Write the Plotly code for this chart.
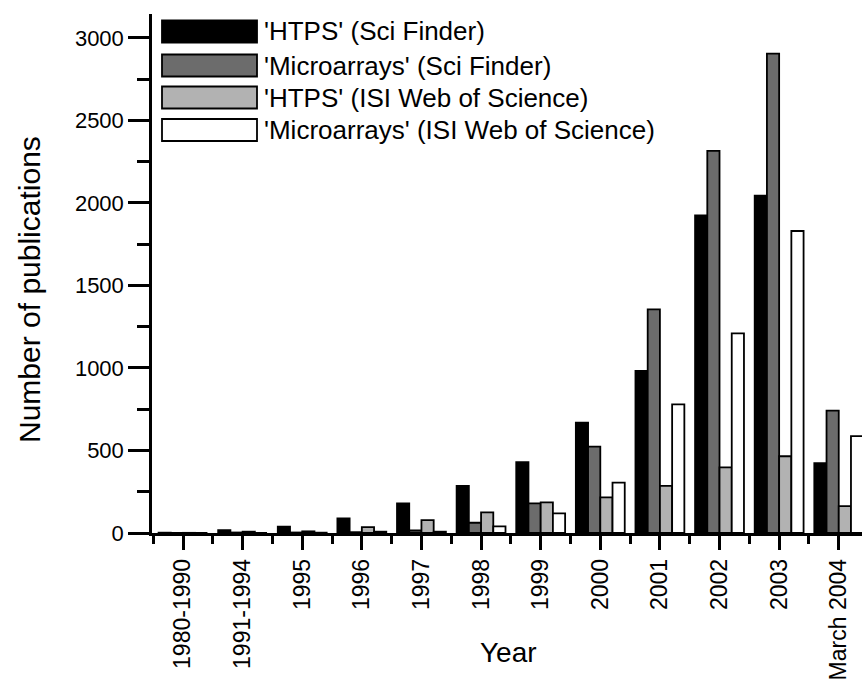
import plotly.graph_objects as go

categories = ["1980-1990", "1991-1994", "1995", "1996", "1997", "1998", "1999",
              "2000", "2001", "2002", "2003", "March 2004"]

htps_scifinder = [2, 18, 38, 88, 180, 285, 430, 668, 982, 1925, 2045, 424]
micro_scifinder = [0, 3, 3, 5, 15, 62, 180, 523, 1355, 2315, 2905, 742]
htps_isi = [1, 8, 10, 35, 78, 125, 186, 216, 285, 398, 465, 163]
micro_isi = [0, 0, 2, 8, 8, 40, 119, 305, 780, 1210, 1830, 587]

series_names = ["'HTPS' (Sci Finder)", "'Microarrays' (Sci Finder)",
                "'HTPS' (ISI Web of Science)", "'Microarrays' (ISI Web of Science)"]
series_values = [htps_scifinder, micro_scifinder, htps_isi, micro_isi]
series_colors = ["#000000", "#6c6c6c", "#b2b2b2", "#ffffff"]

y_ticks = [0, 500, 1000, 1500, 2000, 2500, 3000]

W, H = 863, 679
L, T = 152, 14
R = W - 862
B = H - 533
PW, PH = W - L - R, H - T - B
FONT = "Liberation Sans, Arial, Helvetica, sans-serif"

def px_x(p):
    return (p - L) / PW

def px_y(p):
    return (H - B - p) / PH

xs = list(range(len(categories)))
fig = go.Figure()
for name, vals, col in zip(series_names, series_values, series_colors):
    fig.add_trace(go.Bar(x=xs, y=vals, name=name,
                         marker=dict(color=col, line=dict(color="black", width=1.8)),
                         showlegend=False))

# custom legend with wide swatches
shapes = []
annotations = []
row_centers = [31.5, 65.5, 97.5, 130]
for (name, col, cy) in zip(series_names, series_colors, row_centers):
    shapes.append(dict(type="rect", xref="paper", yref="paper",
                       x0=px_x(162), x1=px_x(257), y0=px_y(cy + 11), y1=px_y(cy - 11),
                       fillcolor=col, line=dict(color="black", width=1.8)))
    annotations.append(dict(xref="paper", yref="paper", x=px_x(262), y=px_y(cy),
                            xanchor="left", yanchor="middle", showarrow=False,
                            text=name, font=dict(family=FONT, size=26, color="black")))

annotations.append(dict(xref="paper", yref="paper", x=px_x(508), y=px_y(652),
                        xanchor="center", yanchor="middle", showarrow=False,
                        text="Year", font=dict(family=FONT, size=28, color="black")))
annotations.append(dict(xref="paper", yref="paper", x=px_x(29), y=px_y(290),
                        xanchor="center", yanchor="middle", showarrow=False, textangle=-90,
                        text="Number of publications", font=dict(family=FONT, size=30, color="black")))

fig.update_layout(
    width=W, height=H,
    margin=dict(l=L, r=R, t=T, b=B, pad=0, autoexpand=False),
    paper_bgcolor="white", plot_bgcolor="white",
    barmode="group", bargap=0.18, bargroupgap=0,
    font=dict(family=FONT, color="black"),
    shapes=shapes, annotations=annotations,
    showlegend=False,
)
fig.update_xaxes(
    automargin=False,
    range=[-0.52, 11.39], tickmode="array", tickvals=xs, ticktext=categories,
    tickangle=-90, tickfont=dict(family=FONT, size=23, color="black"),
    showline=True, linecolor="black", linewidth=2.5,
    ticks="outside", ticklen=14, tickwidth=2.5, tickcolor="black",
    minor=dict(tickmode="array", tickvals=[i - 0.5 for i in range(len(categories) + 1)],
               ticks="outside", ticklen=8, tickwidth=2.5, tickcolor="black"),
    showgrid=False, zeroline=False,
)
fig.update_yaxes(
    automargin=False,
    range=[0, 3145], tickmode="array", tickvals=y_ticks,
    tickfont=dict(family=FONT, size=22, color="black"),
    showline=True, linecolor="black", linewidth=2.5,
    ticks="outside", ticklen=21, tickwidth=2.5, tickcolor="black",
    minor=dict(dtick=250, tick0=0, ticks="outside", ticklen=12, tickwidth=2.5, tickcolor="black"),
    showgrid=False, zeroline=False,
)
fig.write_html("out.html", config={"displayModeBar": False},
               post_script="document.body.style.margin='0';document.body.style.overflow='hidden';")
